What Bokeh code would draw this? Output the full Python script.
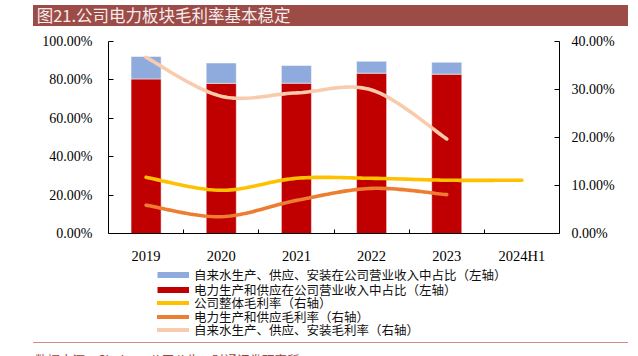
from bokeh.plotting import figure
from bokeh.models import (Range1d, LinearAxis, FixedTicker, PrintfTickFormatter, Legend,
                          LegendItem, ColumnDataSource, Div)
from bokeh.layouts import column
from bokeh.embed import file_html
from bokeh.resources import INLINE

# ---------------- data ----------------
years = ["2019", "2020", "2021", "2022", "2023", "2024H1"]
power_share = [80.5, 78.2, 78.3, 83.5, 83.0, None]      # left axis, %
water_share = [11.7, 10.6, 9.2, 6.2, 6.2, None]          # left axis, %
overall_margin = [11.7, 9.0, 11.5, 11.5, 11.1, 11.1]     # right axis, %
power_margin = [5.9, 3.5, 6.9, 9.4, 8.1, None]           # right axis, %
water_margin = [36.7, 28.6, 29.3, 29.9, 19.7, None]      # right axis, %

left_ticks = [0, 20, 40, 60, 80, 100]
right_ticks = [0, 10, 20, 30, 40]

title_text = "图21.公司电力板块毛利率基本稳定"
source_text = "数据来源：Choice，公司公告，财通证券研究所"
legend_labels = [
    "自来水生产、供应、安装在公司营业收入中占比（左轴）",
    "电力生产和供应在公司营业收入中占比（左轴）",
    "公司整体毛利率（右轴）",
    "电力生产和供应毛利率（右轴）",
    "自来水生产、供应、安装毛利率（右轴）",
]

C_BLUE = "#8FAADC"
C_RED = "#C00000"
C_YELLOW = "#FFC000"
C_ORANGE = "#ED7D31"
C_PALE = "#F8CBAD"

SERIF = "Liberation Serif"
CJK = "Noto Sans CJK SC"


def smooth(xs, ys, n=24):
    """Catmull-Rom rendering of a line through the given points."""
    pts = [(x, y) for x, y in zip(xs, ys) if y is not None]
    if len(pts) < 2:
        return [q[0] for q in pts], [q[1] for q in pts]
    ox, oy = [], []
    m = len(pts)
    for i in range(m - 1):
        p0 = pts[i - 1] if i > 0 else pts[i]
        p1 = pts[i]
        p2 = pts[i + 1]
        p3 = pts[i + 2] if i + 2 < m else pts[i + 1]
        mx1 = (p2[0] - p0[0]) / 2.0
        my1 = (p2[1] - p0[1]) / 2.0
        mx2 = (p3[0] - p1[0]) / 2.0
        my2 = (p3[1] - p1[1]) / 2.0
        for k in range(n + (1 if i == m - 2 else 0)):
            t = k / n
            h00 = 2 * t**3 - 3 * t**2 + 1
            h10 = t**3 - 2 * t**2 + t
            h01 = -2 * t**3 + 3 * t**2
            h11 = t**3 - t**2
            ox.append(h00 * p1[0] + h10 * mx1 + h01 * p2[0] + h11 * mx2)
            oy.append(h00 * p1[1] + h10 * my1 + h01 * p2[1] + h11 * my2)
    return ox, oy


TOTAL_W = 638
TITLE_H = 26
MAIN_H = 240
LEG_H = 74
SRC_H = 356 - TITLE_H - MAIN_H - LEG_H

title_div = Div(
    width=TOTAL_W, height=TITLE_H, margin=0,
    text=(f'<div style="position:relative;width:{TOTAL_W}px;height:{TITLE_H}px;overflow:hidden">'
          '<div style="position:absolute;left:33px;top:5px;width:595px;height:21px;'
          'background:#9C4B46;color:#F6ECEC;font-family:\'Noto Sans CJK SC\';'
          'font-size:16.5px;line-height:21px;white-space:nowrap">'
          f'&nbsp;{title_text}</div></div>'))

p = figure(width=TOTAL_W, height=MAIN_H, output_backend="svg", toolbar_location=None,
           x_range=Range1d(0, len(years)), y_range=Range1d(0, 100),
           min_border_left=108, min_border_right=79, min_border_top=15,
           min_border_bottom=MAIN_H - 215, margin=0)
p.outline_line_color = None
p.xgrid.visible = False
p.ygrid.visible = False
p.background_fill_color = "white"
p.border_fill_color = "white"
p.extra_y_ranges = {"right": Range1d(0, 40)}

xc = [i + 0.5 for i in range(len(years))]

# bars
bar_x = [xc[i] for i in range(len(years)) if power_share[i] is not None]
red_top = [power_share[i] for i in range(len(years)) if power_share[i] is not None]
blue_top = [power_share[i] + water_share[i] for i in range(len(years)) if power_share[i] is not None]
src = ColumnDataSource(dict(x=bar_x, red=red_top, blue=blue_top))
p.vbar(x="x", top="red", bottom=0, width=0.4, source=src, fill_color=C_RED,
       line_color="white", line_alpha=0.5, line_width=1)
p.vbar(x="x", top="blue", bottom="red", width=0.4, source=src, fill_color=C_BLUE,
       line_color="white", line_alpha=0.5, line_width=1)

# lines on right axis
for ys, col in [(water_margin, C_PALE), (power_margin, C_ORANGE), (overall_margin, C_YELLOW)]:
    sx, sy = smooth(xc, ys)
    p.line(sx, sy, y_range_name="right", line_color=col, line_width=3.6, line_cap="round")

# axes
xa = p.xaxis[0]
xa.ticker = FixedTicker(ticks=xc, minor_ticks=[1, 2, 3, 4, 5])
xa.major_label_overrides = {xc[i]: years[i] for i in range(len(years))}
xa.major_tick_line_color = None
xa.minor_tick_in = 4
xa.minor_tick_out = 0
xa.minor_tick_line_color = "black"
xa.axis_line_color = "black"
xa.major_label_text_font = SERIF
xa.major_label_text_font_size = "14.5px"
xa.major_label_text_color = "black"
xa.major_label_standoff = 8

ya = p.yaxis[0]
ya.ticker = FixedTicker(ticks=left_ticks)
ya.formatter = PrintfTickFormatter(format="%.2f%%")
ya.major_tick_in = 5
ya.major_tick_out = 0
ya.minor_tick_line_color = None
ya.axis_line_color = "black"
ya.major_tick_line_color = "black"
ya.major_label_text_font = SERIF
ya.major_label_text_font_size = "14px"
ya.major_label_text_color = "black"
ya.major_label_standoff = 16

ra = LinearAxis(y_range_name="right", ticker=FixedTicker(ticks=right_ticks),
                formatter=PrintfTickFormatter(format="%.2f%%"))
ra.major_tick_in = 5
ra.major_tick_out = 0
ra.minor_tick_line_color = None
ra.axis_line_color = "black"
ra.major_tick_line_color = "black"
ra.major_label_text_font = SERIF
ra.major_label_text_font_size = "14px"
ra.major_label_text_color = "black"
ra.major_label_standoff = 12
p.add_layout(ra, "right")

# legend figure; proxy renderers sit outside the visible range (legend swatches only)
lf = figure(width=TOTAL_W, height=LEG_H, output_backend="svg", toolbar_location=None,
            x_range=Range1d(0, 1), y_range=Range1d(0, 1),
            x_axis_location=None, y_axis_location=None, margin=0,
            min_border=0, min_border_left=0, min_border_right=0,
            min_border_top=0, min_border_bottom=0)
lf.outline_line_color = None
lf.xgrid.visible = False
lf.ygrid.visible = False
row_bottoms = [56, 41, 28, 14, 1]
styles = [(C_BLUE, 6, "butt"), (C_RED, 6, "butt"), (C_YELLOW, 4, "round"),
          (C_ORANGE, 4, "round"), (C_PALE, 4, "round")]
for lab, (col, lw, cap), yb in zip(legend_labels, styles, row_bottoms):
    r = lf.line([5, 6], [5, 5], line_color=col, line_width=lw, line_cap=cap)
    leg = Legend(items=[LegendItem(label=lab, renderers=[r])], location=(49, yb),
                 orientation="vertical", glyph_width=32, glyph_height=13,
                 label_height=13, spacing=0, label_standoff=5, padding=0, margin=0,
                 border_line_color=None, background_fill_alpha=0,
                 label_text_font=CJK, label_text_font_size="12.5px",
                 label_text_color="#111111")
    lf.add_layout(leg, "center")

source_div = Div(
    width=TOTAL_W, height=SRC_H, margin=0,
    text=(f'<div style="position:relative;width:{TOTAL_W}px;height:{SRC_H}px;overflow:hidden">'
          '<div style="position:absolute;left:33px;top:1.5px;width:595px;height:1.5px;'
          'background:#D08C86"></div>'
          '<div style="position:absolute;left:35px;top:12.5px;color:#A0403A;'
          'font-family:\'Noto Sans CJK SC\';font-size:12.5px;line-height:14px;white-space:nowrap">'
          f'{source_text}</div></div>'))

layout = column(title_div, p, lf, source_div, spacing=0)

open("out.html", "w").write(file_html(layout, INLINE))
